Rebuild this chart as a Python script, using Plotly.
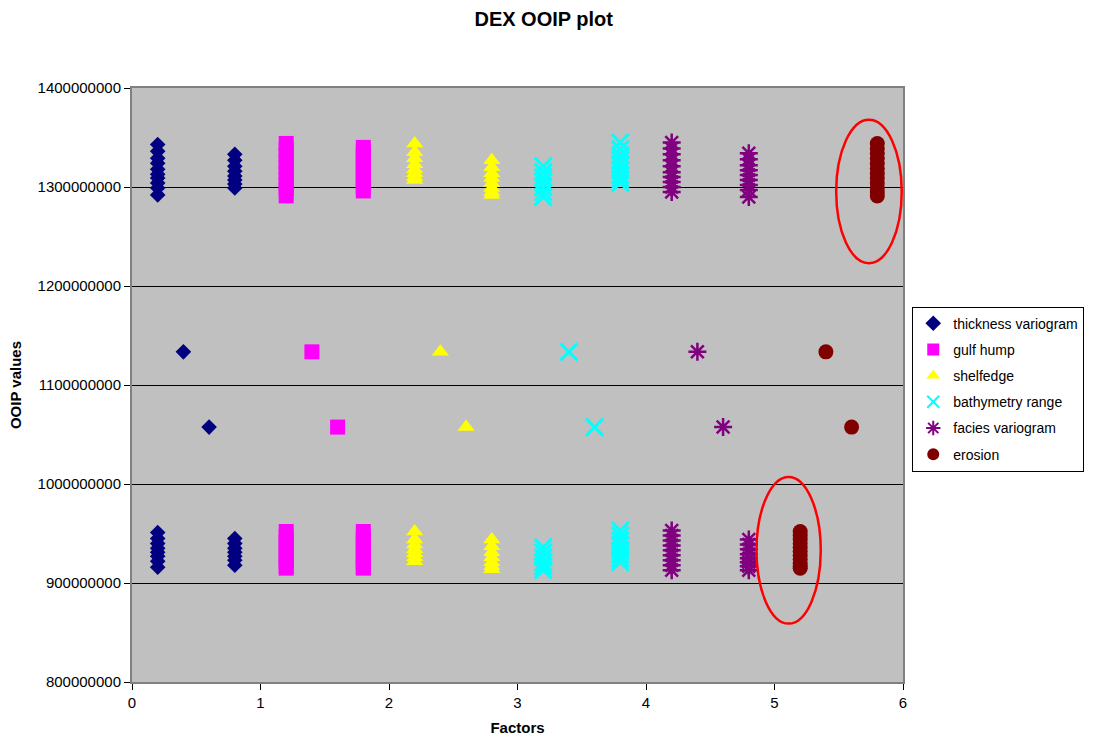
import plotly.graph_objects as go

M = 1e6

# ---------------- data (in millions) ----------------
thickness_x = [0.2]*10 + [0.8]*8 + [0.4, 0.6] + [0.2]*8 + [0.8]*7
thickness_y = [1343, 1336, 1329, 1324, 1318, 1313, 1309, 1304, 1299, 1292,
               1333, 1327, 1321, 1316, 1311, 1307, 1303, 1299,
               1133.5, 1057.5,
               951, 945, 940, 935, 931, 927, 922, 916,
               945, 940, 935, 931, 927, 923, 918]

gulf_x = [1.2]*10 + [1.8]*10 + [1.4, 1.6] + [1.2]*9 + [1.8]*9
gulf_y = [1344, 1338, 1332, 1326, 1320, 1314, 1308, 1302, 1297, 1291,
          1340, 1335, 1330, 1325, 1320, 1315, 1310, 1305, 1300, 1296,
          1133.5, 1057.5,
          952, 947, 942, 937, 932, 927, 922, 917, 915,
          952, 946, 941, 936, 931, 926, 921, 916, 915]

shelf_x = [2.2]*8 + [2.8]*8 + [2.4, 2.6] + [2.2]*7 + [2.8]*7
shelf_y = [1344, 1335, 1329, 1323, 1318, 1314, 1310, 1307,
           1327, 1320, 1314, 1309, 1304, 1299, 1295, 1292,
           1133.5, 1057.5,
           952, 944, 939, 934, 930, 926, 922,
           944, 937, 931, 926, 921, 917, 914]

bathy_x = [3.2]*7 + [3.8]*9 + [3.4, 3.6] + [3.2]*6 + [3.8]*8
bathy_y = [1321, 1315, 1310, 1305, 1300, 1295, 1290,
           1345, 1338, 1332, 1327, 1322, 1317, 1312, 1308, 1304,
           1133.5, 1057.5,
           936, 931, 926, 921, 917, 913,
           953, 948, 943, 938, 933, 929, 925, 921]

facies_x = [4.2]*10 + [4.8]*9 + [4.4, 4.6] + [4.2]*9 + [4.8]*8
facies_y = [1345, 1339, 1333, 1327, 1321, 1315, 1310, 1305, 1300, 1295,
            1334, 1328, 1322, 1317, 1312, 1307, 1302, 1297, 1290,
            1133.5, 1057.5,
            953, 948, 943, 938, 933, 928, 923, 918, 913,
            944, 939, 934, 929, 925, 921, 917, 913]

erosion_x = [5.8]*12 + [5.4, 5.6] + [5.2]*11
erosion_y = [1344, 1339, 1334, 1329, 1324, 1319, 1314, 1309, 1304, 1299, 1295, 1291,
             1133.5, 1057.5,
             952, 948, 944, 940, 936, 932, 928, 924, 920, 917, 915]

series_names = ["thickness variogram", "gulf hump", "shelfedge",
                "bathymetry range", "facies variogram", "erosion"]

# highlight ellipses (data coords: x0, x1, y0, y1 in millions)
ellipse_top = [5.48, 5.99, 1223, 1368]
ellipse_bottom = [4.86, 5.36, 859, 1007]

x_ticks = [0, 1, 2, 3, 4, 5, 6]
y_ticks = [800, 900, 1000, 1100, 1200, 1300, 1400]

# ---------------- figure ----------------
FONT = "Liberation Sans, Arial, sans-serif"
fig = go.Figure()

styles = [
    (thickness_x, thickness_y, dict(symbol="diamond", size=12, color="#000080")),
    (gulf_x, gulf_y, dict(symbol="square", size=15, color="#FF00FF")),
    (shelf_x, shelf_y, dict(symbol="triangle-up", size=15, color="#FFFF00")),
    (bathy_x, bathy_y, dict(symbol="x-thin-open", size=17, color="#00FFFF",
                            line=dict(width=3, color="#00FFFF"))),
    (facies_x, facies_y, dict(symbol="asterisk-open", size=15, color="#800080",
                              line=dict(width=2.5, color="#800080"))),
    (erosion_x, erosion_y, dict(symbol="circle", size=15, color="#800000")),
]

for i, (name, (xs, ys, mk)) in enumerate(zip(series_names, styles)):
    if "line" not in mk:
        mk = dict(mk, line=dict(width=0))
    fig.add_trace(go.Scatter(
        x=xs, y=[v * M for v in ys], mode="markers", name=name,
        marker=mk, legendgroup=f"g{i}",
    ))

for e in (ellipse_top, ellipse_bottom):
    fig.add_shape(type="circle", xref="x", yref="y",
                  x0=e[0], x1=e[1], y0=e[2] * M, y1=e[3] * M,
                  line=dict(color="#FF0000", width=2.5), layer="above")

fig.update_layout(
    width=1094, height=744,
    paper_bgcolor="white", plot_bgcolor="#C0C0C0",
    margin=dict(l=132, r=191, t=88, b=62, autoexpand=False),
    font=dict(family=FONT, size=14, color="black"),
    title=dict(text="<b>DEX OOIP plot</b>", x=0.497, xanchor="center",
               y=0.975, yanchor="middle", font=dict(size=20)),
    legend=dict(x=1.012, y=0.632, xanchor="left", yanchor="top",
                bgcolor="white", bordercolor="black", borderwidth=1,
                font=dict(size=14), tracegroupgap=5, traceorder="grouped",
                itemsizing="constant", itemwidth=30),
    showlegend=True,
)

fig.update_xaxes(
    range=[0, 6], tickvals=x_ticks, ticks="outside", ticklen=6, tickcolor="black",
    showgrid=False, zeroline=False, showline=True, linecolor="#808080",
    linewidth=2, mirror=True,
    title=dict(text="<b>Factors</b>", font=dict(size=15), standoff=12),
    tickfont=dict(size=15),
)
fig.update_yaxes(
    range=[800 * M, 1400 * M], tickvals=[v * M for v in y_ticks],
    tickformat="d", ticks="outside", ticklen=6, tickcolor="black",
    showgrid=True, gridcolor="black", gridwidth=1, zeroline=False,
    showline=True, linecolor="#808080", linewidth=2, mirror=True,
    title=dict(text="<b>OOIP values</b>", font=dict(size=15), standoff=12),
    tickfont=dict(size=15),
)

fig.write_html("out.html")
